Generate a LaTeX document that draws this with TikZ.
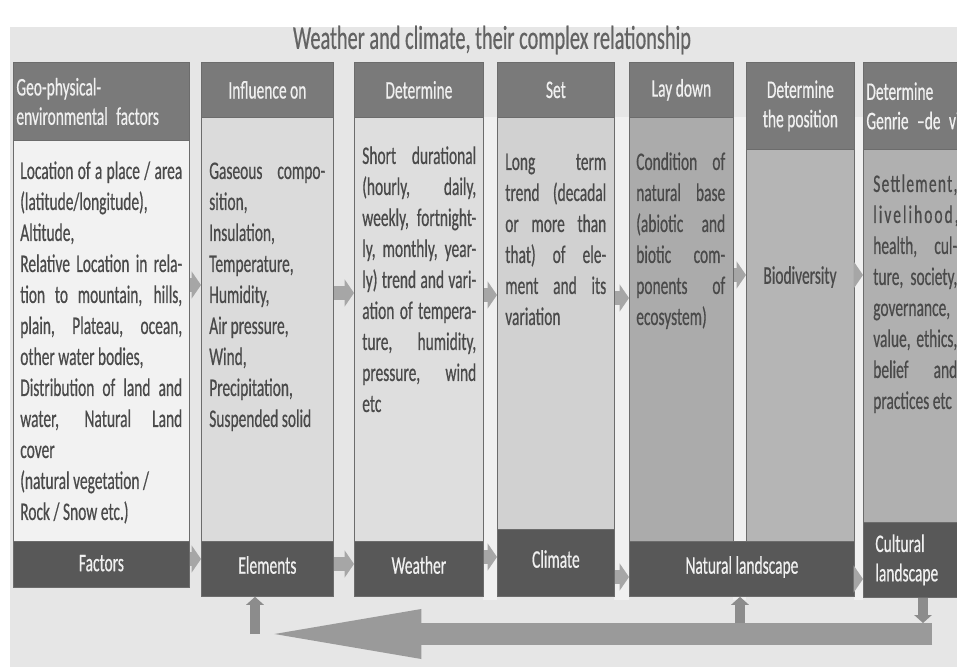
\documentclass[tikz,border=0pt]{standalone}
\usepackage{fontspec}
\setmainfont{Carlito}[FakeStretch=0.61, FakeBold=0.5]
\usetikzlibrary{positioning, arrows.meta}

\definecolor{panelgray}{HTML}{E6E6E6}
\definecolor{stripgray}{HTML}{F0F0F0}
\definecolor{edgegray}{HTML}{6C6C6C}
\definecolor{headgray}{HTML}{7A7A7A}
\definecolor{footgray}{HTML}{585858}
\definecolor{inkgray}{HTML}{4A4A4A}
\definecolor{titlegray}{HTML}{636363}
\definecolor{arrowgray}{HTML}{A6A6A6}
\definecolor{loopgray}{HTML}{8C8C8C}
\definecolor{backgray}{HTML}{9A9A9A}

\newcommand{\boxfont}{\fontsize{19pt}{22pt}\selectfont}
\newcommand{\parafont}{\fontsize{19pt}{23.25pt}\selectfont\parindent=0pt\tolerance=9999\relax}
\newcommand{\wide}[2]{{\addfontfeature{LetterSpace=#1}#2}}

\begin{document}
\begin{tikzpicture}[x=0.75pt, y=-0.75pt,
    colbox/.style={draw=edgegray, line width=0.6pt, inner sep=0pt, anchor=north west},
    headbox/.style={colbox, fill=headgray, text=white!94!black, font=\boxfont},
    footbox/.style={colbox, fill=footgray, text=white!94!black, font=\boxfont},
    footline/.style={footbox, text depth=6pt},
    leftbox/.style={font=\boxfont\raggedright},
    bodybox/.style={colbox, fill=#1},
    bodytext/.style={anchor=north west, inner sep=0pt, text=inkgray, font=\parafont, align=justify},
    fwd/.style={draw=arrowgray, line width=10pt, -{Triangle[length=7pt, width=20pt]}},
    loopline/.style={draw=loopgray, line width=7pt, -{Triangle[length=6pt, width=13pt]}},
    back/.style={draw=backgray, line width=16.5pt, -{Triangle[length=127pt, width=32pt]}}]
    \useasboundingbox (0,0) rectangle (957,667);
    \clip (0,0) rectangle (957,667);
    \fill[panelgray] (10,27) rectangle (957,667);
    \foreach \xa/\xb in {483/497, 614/629, 733/746, 854/863}
        \fill[stripgray] (\xa,117) rectangle (\xb,600);

    \node[text=titlegray, font=\fontsize{25pt}{28pt}\selectfont] (title) at (492,40) {Weather and climate, their complex relationship};

    % headers
    \node[headbox, leftbox, minimum width=132pt, minimum height=58.5pt, text width=127.5pt] (h1) at (13,62) {Geo-physical-\\environmental factors};
    \node[headbox, minimum width=99pt, minimum height=41.25pt] (h2) at (201,62) {Influence on};
    \node[headbox, minimum width=96.75pt, minimum height=41.25pt] (h3) at (354,62) {Determine};
    \node[headbox, minimum width=87.75pt, minimum height=41.25pt] (h4) at (497,62) {Set};
    \node[headbox, minimum width=78pt, minimum height=41.25pt] (h5) at (629,62) {Lay down};
    \node[headbox, minimum width=81pt, minimum height=65.25pt, align=center] (h6) at (746,62) {Determine\\the position};
    \node[headbox, leftbox, minimum width=91.5pt, minimum height=65.25pt, text width=87pt] (h7) at (863,62) {Determine\\Genrie –de vie};

    % bodies
    \node[bodybox=white!95!black, minimum width=132pt, minimum height=300.75pt] (b1) at (13,140) {};
    \node[bodybox=white!86!black, minimum width=99pt, minimum height=318pt] (b2) at (201,117) {};
    \node[bodybox=white!87!black, minimum width=96.75pt, minimum height=318pt] (b3) at (354,117) {};
    \node[bodybox=white!82!black, minimum width=87.75pt, minimum height=309pt] (b4) at (497,117) {};
    \node[bodybox=white!67!black, minimum width=78pt, minimum height=318pt] (b5) at (629,117) {};
    \node[bodybox=white!71!black, minimum width=81pt, minimum height=294pt] (b6) at (746,149) {};
    \node[bodybox=white!69!black, minimum width=91.5pt, minimum height=279.75pt] (b7) at (863,149) {};

    \node[bodytext, text width=121.5pt] (t1) at (20,157) {\strut Location of a place / area\linebreak (latitude/longitude),\par
        Altitude,\par
        Relative Location in rela-\linebreak tion to mountain, hills,\linebreak plain, Plateau, ocean,\linebreak other water bodies,\par
        Distribution of land and\linebreak water, Natural Land\linebreak cover\par
        (natural vegetation /\par Rock / Snow etc.)};
    \node[bodytext, text width=87pt] (t2) at (209,157) {\strut Gaseous compo-\linebreak sition,\par Insulation,\par Temperature,\par Humidity,\par Air pressure,\par Wind,\par Precipitation,\par Suspended solid};
    \node[bodytext, text width=85.5pt] (t3) at (362,142) {\strut Short durational\linebreak (hourly, daily,\linebreak weekly, fortnight-\linebreak ly, monthly, year-\linebreak ly) trend and vari-\linebreak ation of tempera-\linebreak ture, humidity,\linebreak pressure, wind\linebreak etc};
    \node[bodytext, text width=75.75pt] (t4) at (505,148) {\strut Long term\linebreak trend (decadal\linebreak or more than\linebreak that) of ele-\linebreak ment and its\linebreak variation};
    \node[bodytext, text width=66.75pt] (t5) at (636,148) {\strut Condition of\linebreak natural base\linebreak (abiotic and\linebreak biotic com-\linebreak ponents of\linebreak ecosystem)};
    \node[text=inkgray, font=\boxfont] (t6) at (800,277) {Biodiversity};
    \node[bodytext, text width=63pt] (t7) at (873,170) {\strut\wide{5}{Settlement,}\par \wide{8}{livelihood,}\par health, cul-\linebreak ture, society,\linebreak governance,\par value, ethics,\linebreak belief and\linebreak practices etc};

    % footers
    \node[footline, minimum width=132pt, minimum height=34.5pt, text depth=2pt] (f1) at (13,541) {Factors};
    \node[footline, minimum width=99pt, minimum height=41.25pt] (f2) at (201,541) {Elements};
    \node[footline, minimum width=96.75pt, minimum height=41.25pt] (f3) at (354,541) {Weather};
    \node[footline, minimum width=87.75pt, minimum height=50.25pt] (f4) at (497,529) {Climate};
    \node[footline, minimum width=168.75pt, minimum height=41.25pt] (f5) at (629,541) {Natural landscape};
    \node[footbox, leftbox, minimum width=91.5pt, minimum height=56.25pt, text width=73.5pt] (f7) at (863,522) {Cultural\\landscape};

    % forward arrows
    \draw[fwd] (b1.east |- 0,285) -- (b2.west |- 0,285);
    \draw[fwd] (b2.east |- 0,293) -- (b3.west |- 0,293);
    \draw[fwd] (b3.east |- 0,295) -- (b4.west |- 0,295);
    \draw[fwd] (b4.east |- 0,298) -- (b5.west |- 0,298);
    \draw[fwd] (b5.east |- 0,275) -- (b6.west |- 0,275);
    \draw[fwd] (b6.east |- 0,275) -- (b7.west |- 0,275);
    \draw[fwd] (f1.east |- 0,559) -- (f2.west |- 0,559);
    \draw[fwd] (f2.east |- 0,564) -- (f3.west |- 0,564);
    \draw[fwd] (f3.east |- 0,557) -- (f4.west |- 0,557);
    \draw[fwd] (f4.east |- 0,577) -- (f5.west |- 0,577);
    \draw[fwd] (b6.east |- 0,579) -- (f7.west |- 0,579);

    % feedback loop
    \coordinate (backstart) at (932,634);
    \coordinate (backend) at (252,634);
    \coordinate (dropin) at (923,623);
    \coordinate (riseN) at (740,623);
    \coordinate (riseE) at (255,634);
    \draw[back] (backstart) -- (backend);
    \draw[loopline] (f7.south -| dropin) -- (dropin);
    \draw[loopline] (riseN) -- (riseN |- f5.south);
    \draw[loopline] (riseE) -- (riseE |- f2.south);
\end{tikzpicture}
\end{document}
